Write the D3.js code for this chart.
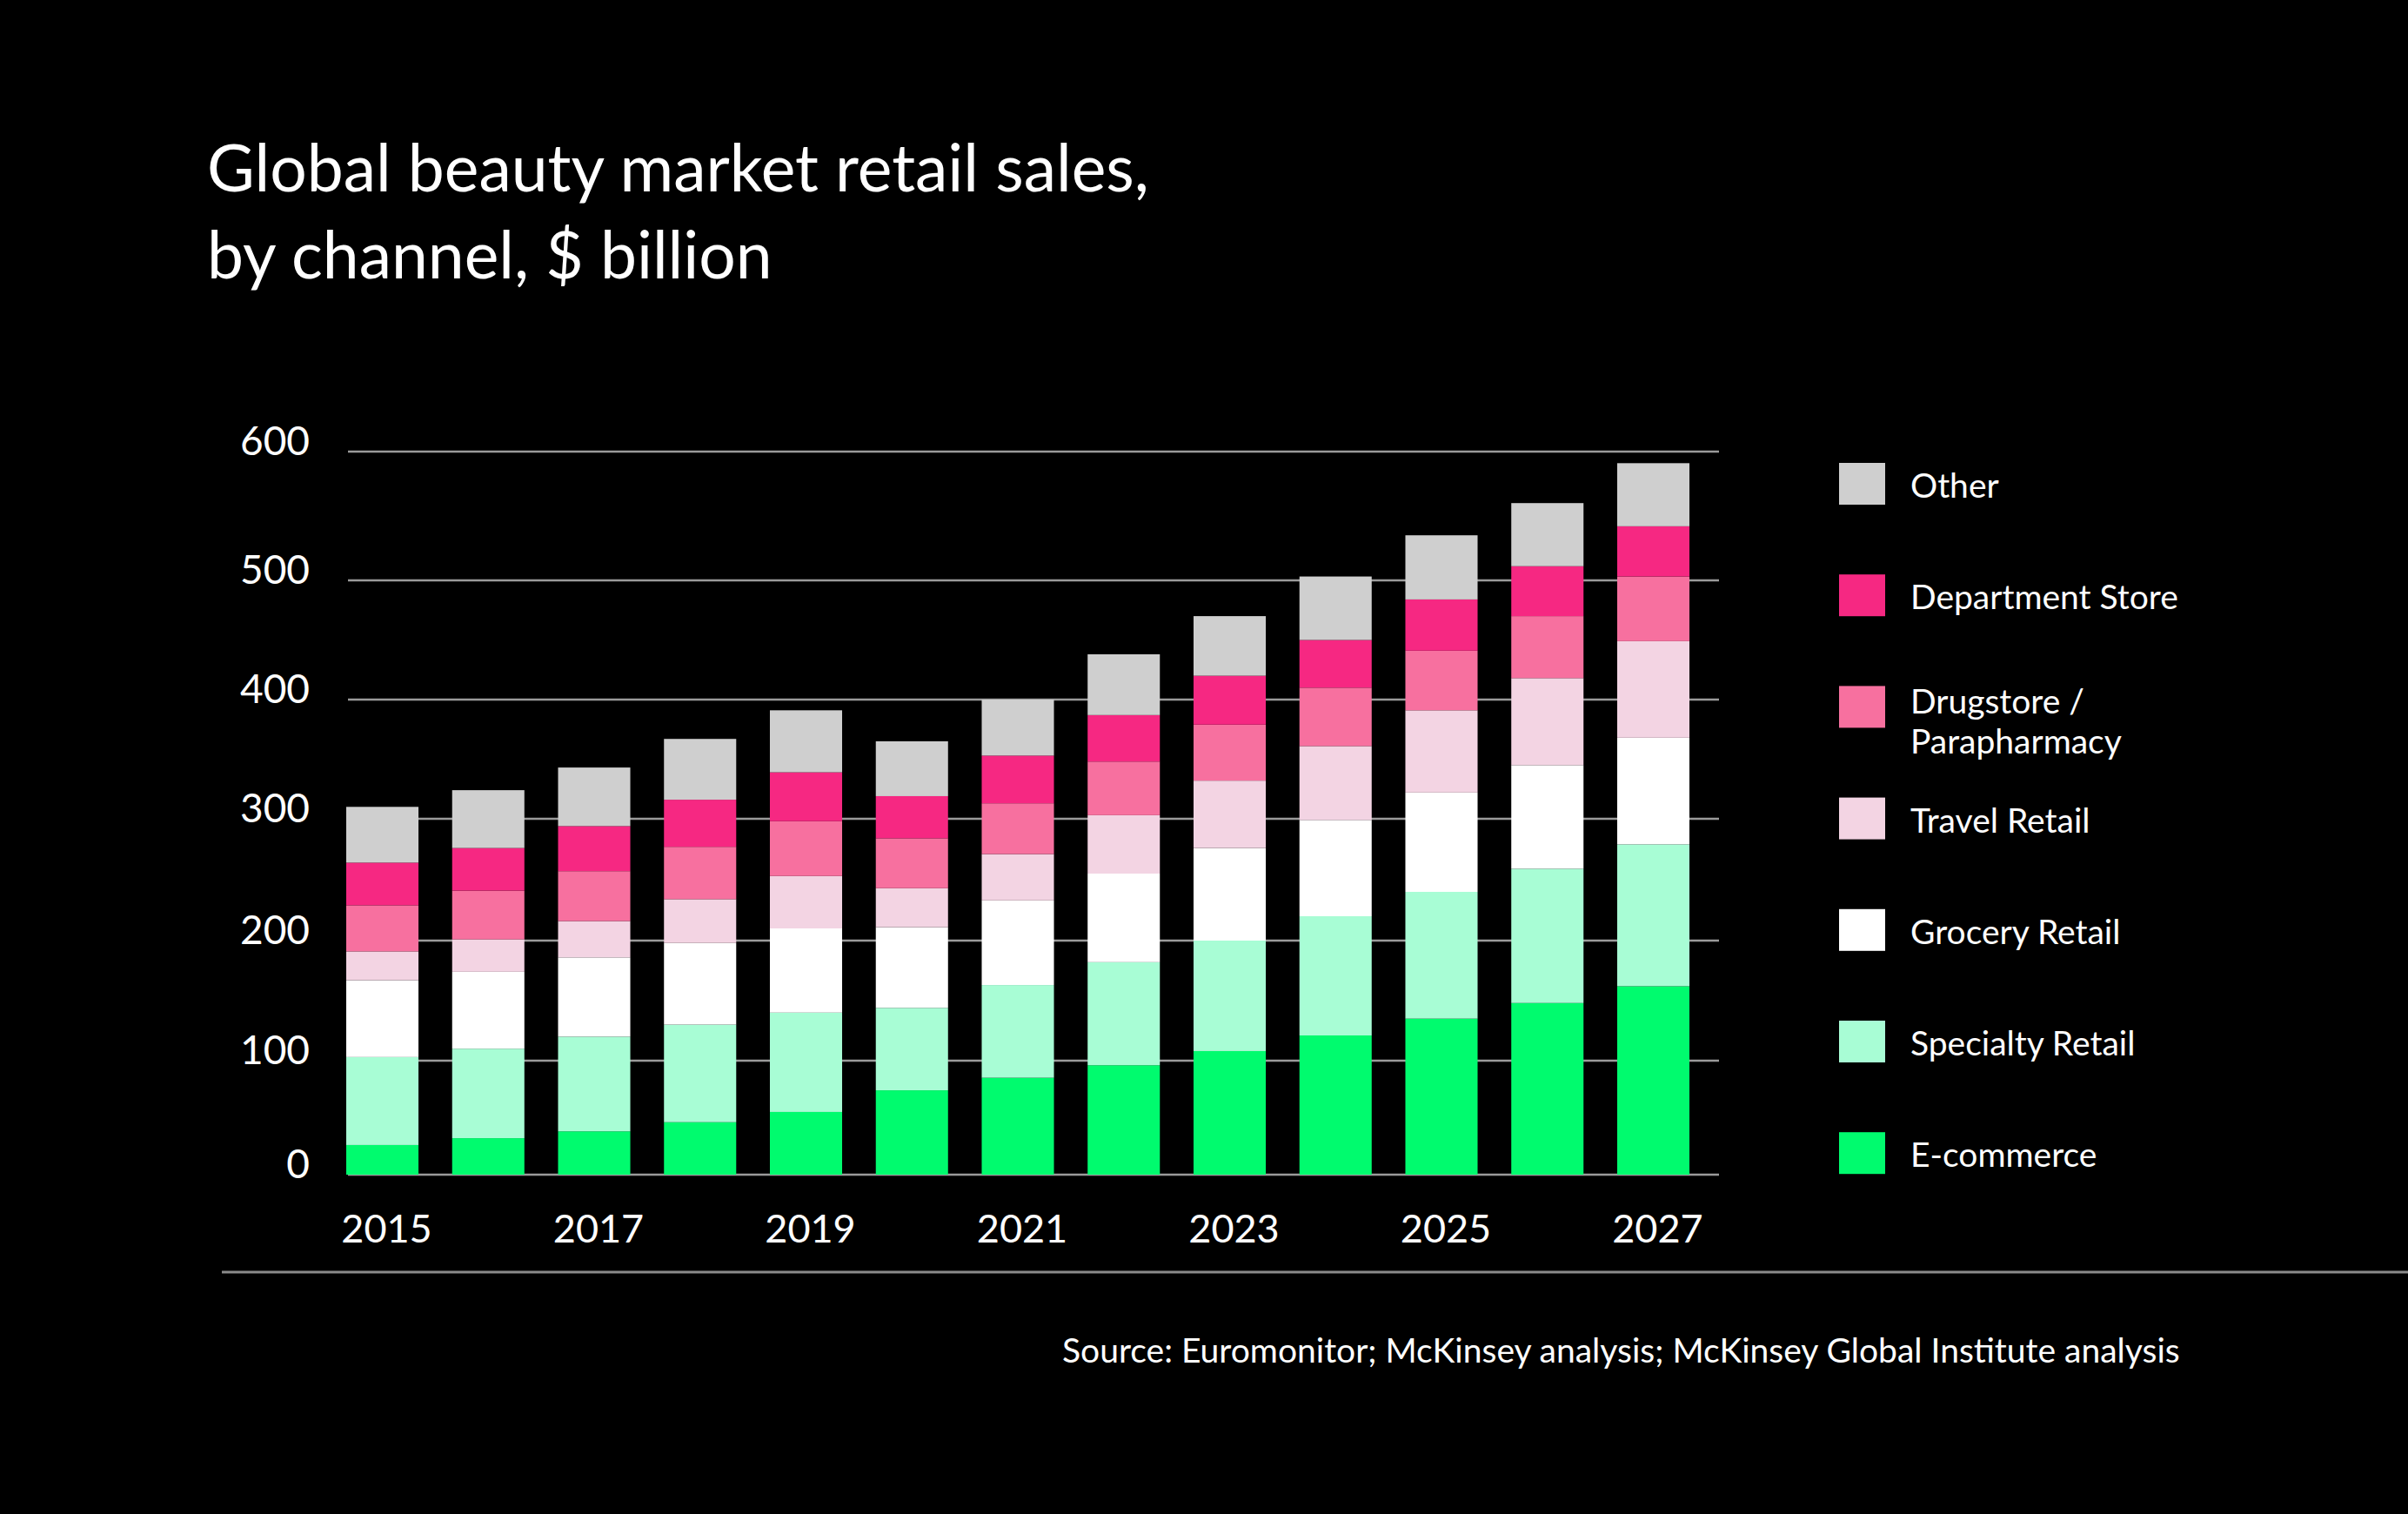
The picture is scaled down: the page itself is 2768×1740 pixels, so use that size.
<!DOCTYPE html>
<html>
<head>
<meta charset="utf-8">
<script src="https://cdn.jsdelivr.net/npm/d3@7"></script>
<style>
  body { margin: 0; background: #000; }
  text { font-family: "Lato", sans-serif; fill: #fff; }
</style>
</head>
<body>
<div id="chart"></div>
<script>
var years = [2015, 2016, 2017, 2018, 2019, 2020, 2021, 2022, 2023, 2024, 2025, 2026, 2027];
var yearLabels = ["2015", "2017", "2019", "2021", "2023", "2025", "2027"];
var yTicks = [0, 100, 200, 300, 400, 500, 600];

// stack order bottom -> top
var channels = ["E-commerce", "Specialty Retail", "Grocery Retail", "Travel Retail", "Drugstore / Parapharmacy", "Department Store", "Other"];
var colors = ["#00fb6e", "#a8fdd5", "#ffffff", "#f3d4e3", "#f7709f", "#f62882", "#cfcfcf"];

var ecommerce   = [26, 32, 38, 46, 55, 74, 85, 96, 108, 121, 135, 148, 162];
var specialty   = [77, 78, 82, 84, 85, 70, 78, 86, 92, 99, 105, 111, 117];
var grocery     = [64, 64, 66, 68, 70, 67, 70, 73, 76, 79, 82, 86, 89];
var travel      = [24, 27, 30, 36, 43, 32, 38, 48, 56, 62, 69, 73, 81];
var drugstore   = [38, 40, 41, 43, 45, 41, 42, 45, 47, 49, 50, 52, 54];
var department  = [35, 35, 37, 39, 41, 35, 40, 39, 41, 40, 43, 41, 39];
var other       = [46, 48, 49, 51, 52, 46, 47, 51, 50, 53, 51, 49, 49];

var series = [ecommerce, specialty, grocery, travel, drugstore, department, other];

var rows = years.map(function(y, i){
  var r = {year: y};
  channels.forEach(function(c, j){ r[c] = series[j][i]; });
  return r;
});

var svg = d3.select("#chart")
  .append("svg")
  .attr("width", 2768)
  .attr("height", 1740)
  .style("background", "#000");

// title
svg.append("text").attr("x", 238).attr("y", 220).style("font-size", "75px").text("Global beauty market retail sales,");
svg.append("text").attr("x", 238).attr("y", 320).style("font-size", "75px").text("by channel, $ billion");

var x = d3.scaleBand()
  .domain(years)
  .range([398, 1942])
  .paddingInner(0.318)
  .paddingOuter(0);

// the source chart's gridlines are not evenly spaced, follow them
var y = d3.scaleLinear()
  .domain(yTicks)
  .range([1350, 1219, 1081, 941, 804, 667, 519]);

var grid = svg.append("g");
grid.selectAll("line")
  .data(yTicks)
  .enter().append("line")
  .attr("x1", 400)
  .attr("x2", 1976)
  .attr("y1", function(d){ return y(d); })
  .attr("y2", function(d){ return y(d); })
  .attr("stroke", "#9a9a9a")
  .attr("stroke-width", 2.5);

grid.selectAll("text")
  .data(yTicks)
  .enter().append("text")
  .attr("x", 356)
  .attr("y", function(d){ return y(d) + 4; })
  .attr("text-anchor", "end")
  .style("font-size", "46px")
  .text(function(d){ return d; });

var stack = d3.stack().keys(channels)(rows);

svg.append("g").selectAll("g")
  .data(stack)
  .enter().append("g")
  .attr("fill", function(d, i){ return colors[i]; })
  .selectAll("rect")
  .data(function(d){ return d; })
  .enter().append("rect")
  .attr("x", function(d){ return x(d.data.year); })
  .attr("width", x.bandwidth())
  .attr("y", function(d){ return y(d[1]); })
  .attr("height", function(d){ return y(d[0]) - y(d[1]); });

svg.append("g").selectAll("text")
  .data(yearLabels)
  .enter().append("text")
  .attr("x", function(d){ return x(+d) + x.bandwidth() / 2 + 5; })
  .attr("y", 1428)
  .attr("text-anchor", "middle")
  .style("font-size", "45px")
  .text(function(d){ return d; });

// legend, top entry is the top of the stack
var legend = svg.append("g");
var legendItems = channels.slice().reverse();
var legendColors = colors.slice().reverse();
legendItems.forEach(function(name, i){
  var ly = 532 + i * 128.2;
  legend.append("rect")
    .attr("x", 2114).attr("y", ly)
    .attr("width", 53).attr("height", 48)
    .attr("fill", legendColors[i]);
  if (name.indexOf("/") > -1) {
    legend.append("text").attr("x", 2196).attr("y", ly + 32).style("font-size", "39px").text("Drugstore /");
    legend.append("text").attr("x", 2196).attr("y", ly + 78).style("font-size", "39px").text("Parapharmacy");
  } else {
    legend.append("text").attr("x", 2196).attr("y", ly + 40).style("font-size", "39px").text(name);
  }
});

svg.append("line")
  .attr("x1", 255).attr("x2", 2768)
  .attr("y1", 1462).attr("y2", 1462)
  .attr("stroke", "#8a8a8a")
  .attr("stroke-width", 3);

svg.append("text")
  .attr("x", 1221).attr("y", 1566)
  .style("font-size", "39px")
  .text("Source: Euromonitor; McKinsey analysis; McKinsey Global Institute analysis");
</script>
</body>
</html>
